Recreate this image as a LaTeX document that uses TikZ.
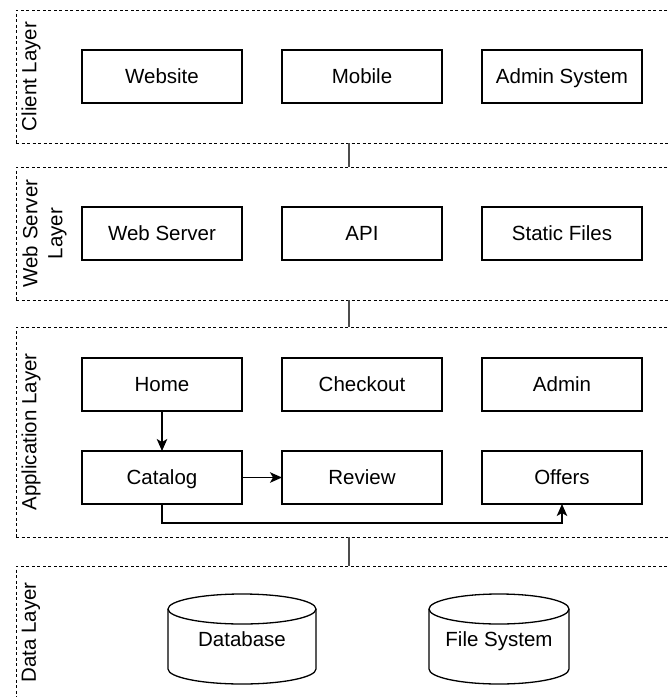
\documentclass[tikz,border=0pt]{standalone}
\usepackage{fontspec}
\setmainfont{Liberation Sans}
\usetikzlibrary{arrows.meta}
\begin{document}
\begin{tikzpicture}[x=1pt,y=1pt,
  every node/.style={font=\fontsize{20.5}{25}\selectfont, inner sep=0pt, outer sep=0pt},
  layer/.style={draw, line width=0.9pt, dash pattern=on 3pt off 2.5pt,
                minimum width=666pt, anchor=north west},
  lbl/.style={rotate=90, align=center},
  plain text/.style={text height=14.7pt, text depth=0pt},
  box/.style={plain text, draw, line width=1.3pt, minimum width=160pt, minimum height=53pt},
  cylbox/.style={plain text, minimum height=90pt},
  cylline/.style={line width=1.3pt},
  arr/.style={line width=1.3pt, -{Stealth[length=12pt, width=10.5pt, inset=3pt]}},
  link/.style={line width=1.6pt, draw=black!70}
]
\useasboundingbox (0,0) rectangle (670,-697);
\clip (0,0) rectangle (670,-697);

% layer frames
\node[layer, minimum height=133pt] (client) at (16,-10)  {};
\node[layer, minimum height=133pt] (web)    at (16,-167) {};
\node[layer, minimum height=210pt] (app)    at (16,-327) {};
\node[layer, minimum height=133pt] (data)   at (16,-566) {};

% layer titles
\node[lbl] (clientlbl) at (31,-76.5)  {Client Layer};
\node[lbl] (weblbl)    at (44.5,-233.5) {Web Server\\Layer};
\node[lbl] (applbl)    at (31,-432)   {Application Layer};
\node[lbl] (datalbl)   at (31,-632.5) {Data Layer};

% client layer
\node[box] (website) at (162,-76.5) {Website};
\node[box] (mobile)  at (362,-76.5) {Mobile};
\node[box] (adminsys) at (562,-76.5) {Admin System};

% web server layer
\node[box] (webserver) at (162,-233.5) {Web Server};
\node[box] (api)       at (362,-233.5) {API};
\node[box] (static)    at (562,-233.5) {Static Files};

% application layer
\node[box] (home)     at (162,-384.5) {Home};
\node[box] (checkout) at (362,-384.5) {Checkout};
\node[box] (admin)    at (562,-384.5) {Admin};
\node[box] (catalog)  at (162,-477.5) {Catalog};
\node[box] (review)   at (362,-477.5) {Review};
\node[box] (offers)   at (562,-477.5) {Offers};

% data layer
\node[cylbox, minimum width=148pt] (db) at (242,-639) {Database};
\node[cylbox, minimum width=140pt] (fs) at (499,-639) {File System};

\draw[cylline] ([yshift=-15pt]db.north west) -- ([yshift=15pt]db.south west)
  arc[start angle=180, end angle=360, x radius=74pt, y radius=15pt]
  -- ([yshift=-15pt]db.north east);
\draw[cylline] ([yshift=-15pt]db.north) ellipse[x radius=74pt, y radius=15pt];

\draw[cylline] ([yshift=-15pt]fs.north west) -- ([yshift=15pt]fs.south west)
  arc[start angle=180, end angle=360, x radius=70pt, y radius=15pt]
  -- ([yshift=-15pt]fs.north east);
\draw[cylline] ([yshift=-15pt]fs.north) ellipse[x radius=70pt, y radius=15pt];

% links between layers
\draw[link] (client.south) -- (web.north);
\draw[link] (web.south) -- (app.north);
\draw[link] (app.south) -- (data.north);

% flows inside the application layer
\draw[arr] (home) -- (catalog);
\draw[arr] (catalog) -- (review);
\draw[arr] (catalog.south) -- ++(0,-19) -| (offers.south);
\end{tikzpicture}
\end{document}
